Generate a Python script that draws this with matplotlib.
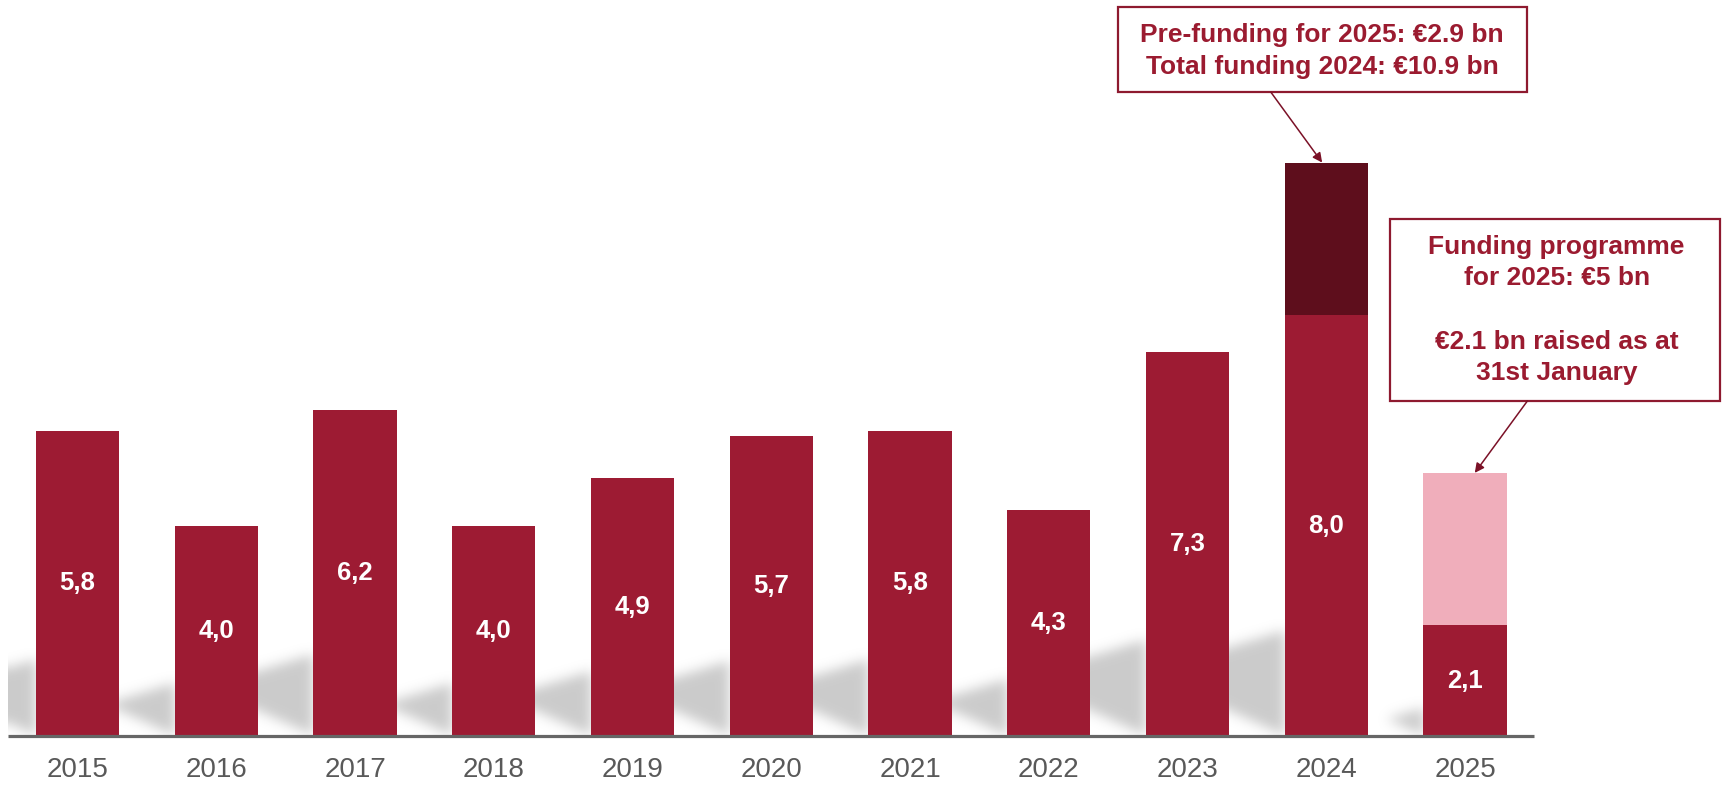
import numpy as np
import matplotlib
matplotlib.use("Agg")
import matplotlib.pyplot as plt
from matplotlib.path import Path
from matplotlib.patches import Rectangle

plt.rcParams['font.family'] = ['Liberation Sans', 'DejaVu Sans']

# Funding by year (EUR bn)
years = ['2015', '2016', '2017', '2018', '2019', '2020', '2021', '2022', '2023', '2024', '2025']
funding = [5.8, 4.0, 6.2, 4.0, 4.9, 5.7, 5.8, 4.3, 7.3, 8.0, 2.1]
prefunding_2025 = 2.9          # raised in 2024, on top of the 2024 bar
programme_2025 = 5.0           # full 2025 programme

box_top = ['Pre-funding for 2025: €2.9 bn', 'Total funding 2024: €10.9 bn']
box_right = ['Funding programme', 'for 2025: €5 bn', '', '€2.1 bn raised as at', '31st January']

red = '#9D1B33'
dark = '#5E0E1C'
pink = '#F0AEBB'
txt_red = '#9B1B30'
edge_red = '#8E1A2F'

fig = plt.figure(figsize=(17.23, 7.88), dpi=100)
ax = fig.add_axes([0, 0, 1, 1])
ax.set_xlim(-0.5586, 11.859)
ax.set_ylim(-0.99, 13.99)
ax.axis('off')

x = np.arange(len(years))
w = 0.6

# soft shadows behind the bars, cast to the left
sx = ax.transData.transform((1, 0))[0] - ax.transData.transform((0, 0))[0]
sy = ax.transData.transform((0, 1))[1] - ax.transData.transform((0, 0))[1]
x0, x1, y0, y1 = -0.5, 10.5, 0.0, 3.2
nx, ny = int((x1 - x0) * sx), int((y1 - y0) * sy)
gx, gy = np.meshgrid(np.linspace(x0, x1, nx), np.linspace(y0, y1, ny))
pts = np.column_stack([gx.ravel(), gy.ravel()])
mask = np.zeros(gx.size)
for xi, v in zip(x, funding):
    a = xi - w / 2
    H = 0.25 * v * sy
    L = min(130, H / 0.75)
    poly = [(0, 0), (0, H), (-L, H - 0.3 * L), (-L, 0.45 * L)]
    poly = [(a + px / sx, py / sy) for px, py in poly]
    mask = np.maximum(mask, Path(poly).contains_points(pts))
mask = mask.reshape(gx.shape).astype(float)

sig = 6.0
k = np.exp(-0.5 * (np.arange(-3 * sig, 3 * sig + 1) / sig) ** 2)
k /= k.sum()
pad = len(k) // 2
m = np.pad(mask, pad, mode='edge')
m = np.apply_along_axis(lambda r: np.convolve(r, k, mode='same'), 0, m)
m = np.apply_along_axis(lambda r: np.convolve(r, k, mode='same'), 1, m)
m = m[pad:-pad, pad:-pad]
img = np.zeros(m.shape + (4,))
img[..., :3] = 0.55
img[..., 3] = 0.45 * m
ax.imshow(img, extent=(x0, x1, y0, y1), origin='lower', aspect='auto',
          interpolation='bilinear', zorder=1)
ax.set_xlim(-0.5586, 11.859)
ax.set_ylim(-0.99, 13.99)

# bars
ax.bar(x, funding, width=w, color=red, zorder=2)
ax.bar(x[9], prefunding_2025, bottom=funding[9], width=w, color=dark, zorder=2)
ax.bar(x[10], programme_2025 - funding[10], bottom=funding[10], width=w, color=pink, zorder=2)

ax.plot([-0.5, 10.5], [0, 0], color='#666666', lw=2.3, solid_capstyle='butt', zorder=3)

for xi, v, yr in zip(x, funding, years):
    ax.text(xi, v / 2, f'{v:.1f}'.replace('.', ','), color='white', fontsize=18.5,
            fontweight='bold', ha='center', va='center', zorder=4)
    ax.text(xi, -0.65, yr, color='#595959', fontsize=20, ha='center', va='center')

# callout for 2024
ax.add_patch(Rectangle((7.50, 12.24), 10.45 - 7.50, 13.86 - 12.24, fill=False,
                       edgecolor=edge_red, lw=1.6, zorder=5))
for line, yy in zip(box_top, [13.33, 12.72]):
    ax.text(8.97, yy, line, color=txt_red, fontsize=19, fontweight='bold',
            ha='center', va='center', zorder=5)
ax.annotate('', xy=(8.97, funding[9] + prefunding_2025), xytext=(8.60, 12.24),
            arrowprops=dict(arrowstyle='-|>', color='#7B1127', lw=1.1,
                            mutation_scale=14, shrinkA=0, shrinkB=0), zorder=5)

# callout for 2025
ax.add_patch(Rectangle((9.46, 6.37), 11.84 - 9.46, 9.83 - 6.37, fill=False,
                       edgecolor=edge_red, lw=1.6, zorder=5))
for line, yy in zip(box_right, [9.30, 8.71, 8.10, 7.49, 6.90]):
    ax.text(10.66, yy, line, color=txt_red, fontsize=19, fontweight='bold',
            ha='center', va='center', zorder=5)
ax.annotate('', xy=(10.07, programme_2025), xytext=(10.45, 6.37),
            arrowprops=dict(arrowstyle='-|>', color='#7B1127', lw=1.1,
                            mutation_scale=14, shrinkA=0, shrinkB=0), zorder=5)

fig.savefig('out.png', dpi=100)
